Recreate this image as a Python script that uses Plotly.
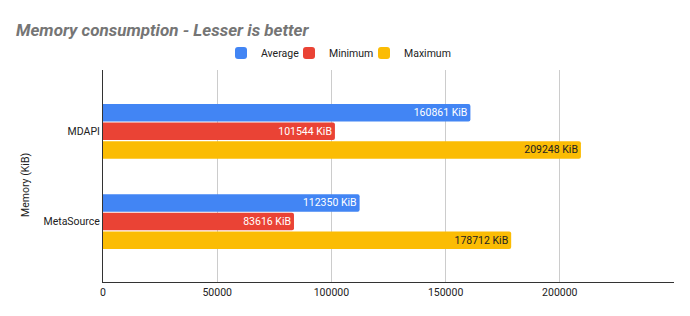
import plotly.graph_objects as go

categories = ["MDAPI", "MetaSource"]
series_names = ["Average", "Minimum", "Maximum"]
average = [160861, 112350]
minimum = [101544, 83616]
maximum = [209248, 178712]
tick_vals = [0, 50000, 100000, 150000, 200000, 250000]
tick_text = ["0", "50000", "100000", "150000", "200000", ""]

colors = ["#4285F4", "#EA4335", "#FBBC04"]
text_colors = ["#FFFFFF", "#FFFFFF", "#222222"]
legend_ids = ["legend", "legend2", "legend3"]
legend_left_px = [221, 289, 364]
FS = 10.5
W, H = 690, 316

fig = go.Figure()
for name, vals, c, tc, lg in zip(series_names, [average, minimum, maximum], colors, text_colors, legend_ids):
    fig.add_trace(go.Bar(
        y=categories, x=vals, name=name, orientation="h", legend=lg,
        marker=dict(color=c, line=dict(width=0)),
        text=[f"{v} KiB" for v in vals], textposition="inside",
        insidetextanchor="end", textangle=0, constraintext="none",
        insidetextfont=dict(color=tc, size=FS, family="Roboto"),
    ))

legend_common = dict(orientation="h", xref="container", xanchor="left",
                     yref="container", y=1-53/H, yanchor="middle",
                     font=dict(family="Roboto", size=FS, color="#222222"),
                     itemwidth=30, bgcolor="rgba(0,0,0,0)")
legends = {}
for lg, lx in zip(legend_ids, legend_left_px):
    legends[lg] = dict(legend_common, x=lx / W)

fig.update_layout(
    width=W, height=H,
    margin=dict(l=103, r=16, t=70, b=34, autoexpand=False),
    paper_bgcolor="white", plot_bgcolor="white",
    barmode="group", bargap=0.38, bargroupgap=0.06, barcornerradius=2,
    font=dict(family="Roboto", size=FS, color="#222222"),
    title=dict(text="<b><i>Memory consumption - Lesser is better</i></b>",
               font=dict(family="Roboto", size=17, color="#757575"),
               xref="container", x=16/W, xanchor="left",
               yref="container", y=1-30/H, yanchor="middle"),
    showlegend=True,
    **legends,
)
fig.add_annotation(text="Memory (KiB)", textangle=-90, showarrow=False,
                   xref="paper", yref="paper",
                   x=(25 - 103) / (W - 103 - 16), y=1 - (185 - 70) / (H - 70 - 34),
                   xanchor="center", yanchor="middle",
                   font=dict(family="Roboto", size=FS, color="#222222"))
fig.update_xaxes(range=[0, 250000], tickvals=tick_vals, ticktext=tick_text,
                 showgrid=True, gridcolor="#CCCCCC", gridwidth=1,
                 zeroline=False, showline=True, linecolor="#333333", linewidth=1,
                 ticks="", tickfont=dict(family="Roboto", size=FS, color="#222222"))
fig.update_yaxes(range=[1.67, -0.68], showgrid=False, zeroline=False,
                 showline=True, linecolor="#333333", linewidth=1, ticks="",
                 tickfont=dict(family="Roboto", size=FS, color="#222222"))

fig.write_html("out.html")
